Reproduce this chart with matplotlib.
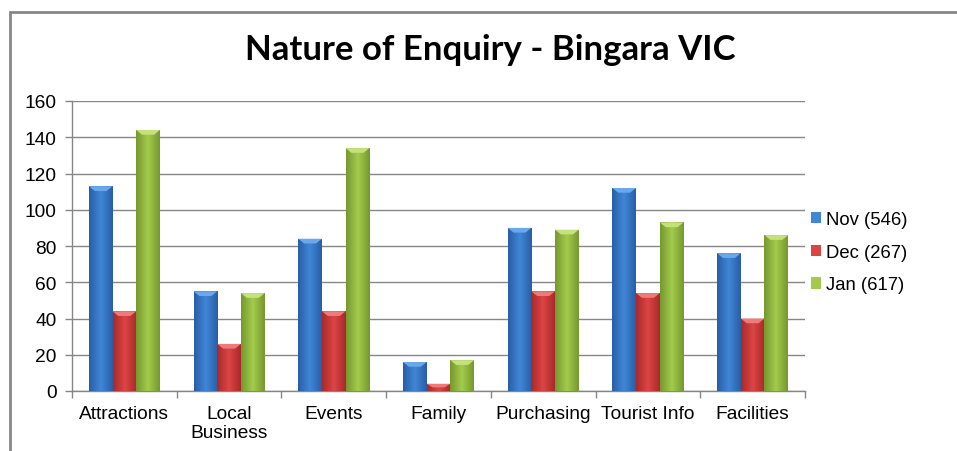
import numpy as np
import matplotlib
matplotlib.use('Agg')
import matplotlib.pyplot as plt
from matplotlib.colors import LinearSegmentedColormap
from matplotlib.patches import Rectangle, Polygon

categories = ['Attractions', 'Local\nBusiness', 'Events', 'Family',
              'Purchasing', 'Tourist Info', 'Facilities']
nov = [113, 55, 84, 16, 90, 112, 76]
dec = [44, 26, 44, 4, 55, 54, 40]
jan = [144, 54, 134, 17, 89, 93, 86]
series_names = ['Nov (546)', 'Dec (267)', 'Jan (617)']

# edge, centre, top-bevel colours for each series
shades = [('#2a5ea6', '#3f86d6', '#6aa8ee'),
          ('#a82a2a', '#dc4444', '#f07a7a'),
          ('#76982e', '#a2cb4c', '#c4e27a')]

plt.rcParams['font.family'] = ['Liberation Sans', 'DejaVu Sans']

fig = plt.figure(figsize=(9.57, 4.52), dpi=100)
ax = fig.add_axes([72 / 957, 1 - 392 / 452, 733 / 957, 290 / 452])

x = np.arange(len(categories))
w = 0.2264
grad = np.linspace(0, 1, 64)
grad = 1 - np.abs(grad - 0.5) * 2  # dark edges, light middle
grad = grad.reshape(1, -1)

for k, vals in enumerate([nov, dec, jan]):
    edge, mid, top = shades[k]
    cmap = LinearSegmentedColormap.from_list('c%d' % k, [edge, mid])
    bars = ax.bar(x + (k - 1) * w, vals, w, color=mid, linewidth=0,
                  label=series_names[k], zorder=3)
    for b in bars:
        bx, by = b.get_x(), b.get_y()
        bw, bh = b.get_width(), b.get_height()
        im = ax.imshow(grad, cmap=cmap, aspect='auto',
                       extent=(bx, bx + bw, by, by + bh), zorder=3.1,
                       interpolation='bicubic')
        im.set_clip_path(b)
        # small bevel on the top of each bar
        bev = min(2.6, bh * 0.5)
        ax.add_patch(Polygon([(bx, by + bh), (bx + bw, by + bh),
                              (bx + bw * 0.75, by + bh - bev),
                              (bx + bw * 0.25, by + bh - bev)],
                             closed=True, facecolor=top, edgecolor='none',
                             zorder=3.2))

ax.set_xlim(-0.5, len(categories) - 0.5)
ax.set_ylim(0, 160)
ax.set_yticks(range(0, 161, 20))
ax.set_xticks(x)
ax.set_xticklabels(categories)
ax.set_xticks(np.arange(-0.5, len(categories), 1), minor=True)
ax.tick_params(axis='x', which='major', length=0, labelsize=13.8, pad=10)
ax.tick_params(axis='x', which='minor', length=5, color='#868686', width=1)
ax.tick_params(axis='y', length=5, color='#868686', width=1, labelsize=13.8,
               pad=6)
for lab in ax.get_xticklabels():
    lab.set_linespacing(1.15)

ax.grid(axis='y', color='#868686', linewidth=1, zorder=0)
ax.set_axisbelow(True)
for s in ['top', 'right']:
    ax.spines[s].set_visible(False)
for s in ['left', 'bottom']:
    ax.spines[s].set_color('#868686')
    ax.spines[s].set_linewidth(1)

fig.text(490 / 957, 1 - 50 / 452, 'Nature of Enquiry - Bingara VIC',
         ha='center', va='center', fontsize=25, fontweight='bold',
         family=['Lato', 'DejaVu Sans'])

leg = ax.legend(loc='upper left', bbox_to_anchor=(0.99, 0.665), frameon=False,
                fontsize=13.3, handlelength=0.55, handleheight=0.55,
                handletextpad=0.3, labelspacing=0.85, borderaxespad=0.3)

# outer chart border
fig.patches.append(Rectangle((10 / 957, -0.1), 1.2, 1.1 - 13 / 452,
                             transform=fig.transFigure, fill=False,
                             edgecolor='#878787', linewidth=2))

plt.savefig('out.png', dpi=100)
